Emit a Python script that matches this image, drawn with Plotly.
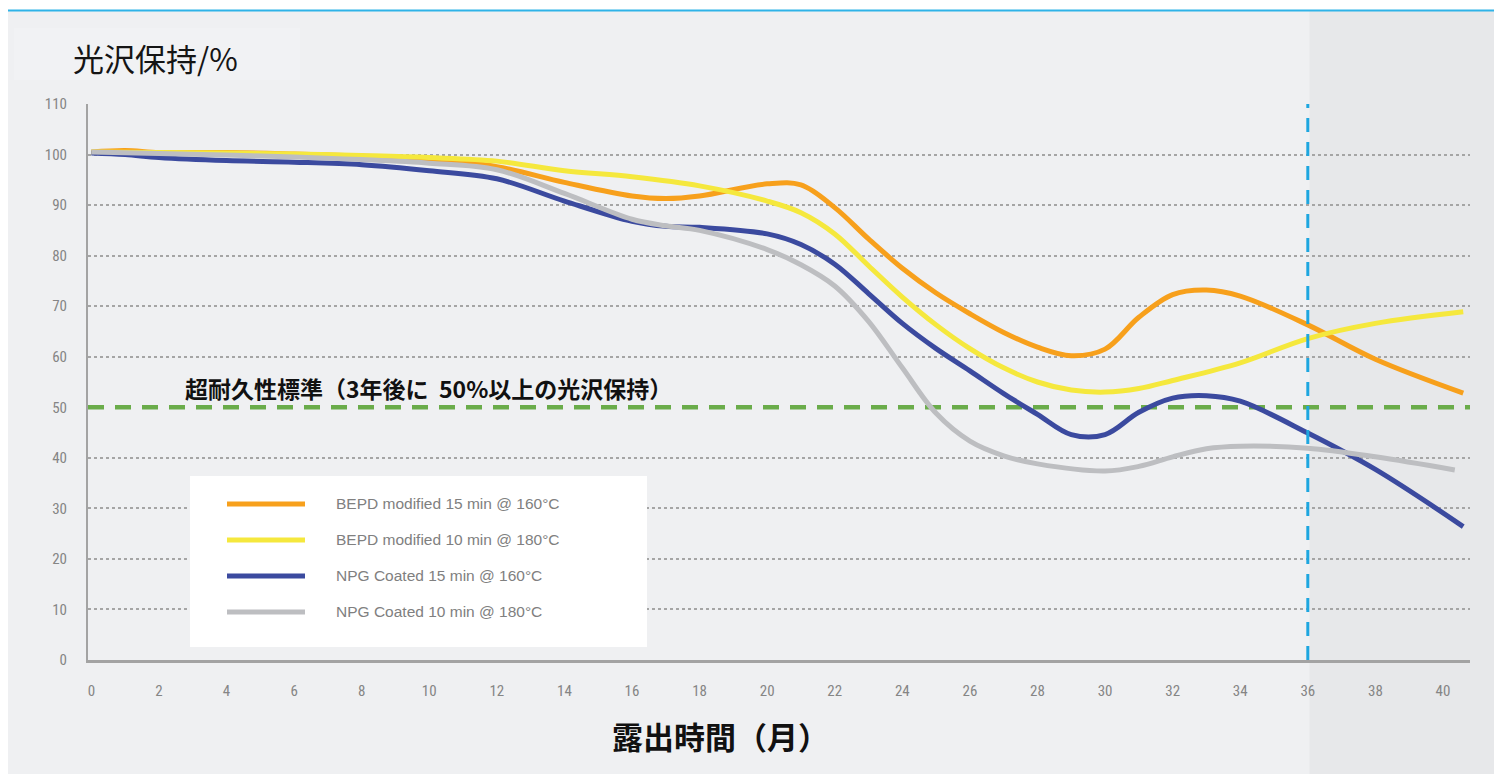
import plotly.graph_objects as go

# ---------------- data ----------------
months_orange = [0, 1, 2, 4, 6, 8, 10, 12, 14, 16, 17, 18, 20, 21, 22, 23, 24, 25, 26, 27, 28, 29, 30, 31, 32, 33, 34, 36, 38, 40.6]
orange = [100.5, 100.8, 100.4, 100.4, 100.1, 99.7, 99.1, 97.6, 94.5, 91.8, 91.3, 91.8, 94.2, 94.0, 89.5, 83.3, 77.5, 72.6, 68.5, 64.8, 61.9, 60.2, 61.5, 67.8, 72.3, 73.2, 72.0, 66.3, 59.5, 52.8]

months_yellow = [0, 2, 4, 6, 8, 10, 12, 14, 16, 18, 20, 21, 22, 23, 24, 25, 26, 27, 28, 29, 30, 31, 32, 34, 36, 38, 40.6]
yellow = [100.5, 100.4, 100.3, 100.1, 99.8, 99.4, 98.7, 96.8, 95.6, 93.8, 90.8, 88.5, 84.3, 78.0, 71.8, 66.3, 61.6, 57.8, 55.0, 53.4, 53.0, 53.7, 55.3, 58.8, 63.6, 66.6, 68.9]

months_blue = [0, 1, 2, 4, 6, 8, 10, 12, 14, 16, 17, 18, 20, 21, 22, 23, 24, 25, 26, 27, 28, 29, 30, 31, 32, 33, 34, 36, 38, 40.6]
blue = [100.3, 100.0, 99.4, 98.8, 98.5, 98.0, 96.8, 95.2, 90.8, 86.8, 85.8, 85.6, 84.3, 82.2, 78.3, 72.5, 66.6, 61.6, 57.2, 52.7, 48.6, 44.6, 44.6, 49.0, 51.8, 52.3, 51.2, 44.9, 37.7, 26.4]

months_gray = [0, 2, 4, 6, 8, 10, 12, 14, 16, 17, 18, 20, 21, 22, 23, 24, 25, 26, 27, 28, 30, 31, 32, 33, 34, 36, 38, 40.35]
gray = [100.5, 100.2, 99.9, 99.5, 99.0, 98.3, 97.0, 92.3, 87.2, 85.9, 85.0, 81.2, 78.2, 74.0, 67.0, 57.8, 48.8, 43.3, 40.4, 38.8, 37.4, 38.3, 40.2, 41.8, 42.3, 41.9, 40.2, 37.6]

series_names = [
    "BEPD modified 15 min @ 160°C",
    "BEPD modified 10 min @ 180°C",
    "NPG Coated 15 min @ 160°C",
    "NPG Coated 10 min @ 180°C",
]
series_x = [months_orange, months_yellow, months_blue, months_gray]
series_y = [orange, yellow, blue, gray]
series_colors = ["#f7a01c", "#f5e83d", "#3b4a9f", "#bdbec1"]

x_ticks = list(range(0, 41, 2))
y_ticks = list(range(0, 111, 10))
threshold = 50
target_month = 36
x_range = [-0.1, 40.8]
y_range = [0, 110]

standard_text = "超耐久性標準（3年後に  50%以上の光沢保持）"
y_title = "光沢保持/%"
x_title = "露出時間（月）"

# ---------------- layout helpers ----------------
OFF = 8  # page body margin of the browser
W, H = 1502 - OFF, 774 - OFF
ML, MR, MT, MB = 80, 32, 96, 114
PW, PH = W - ML - MR, H - MT - MB
BG = "#eff0f2"
BG_SHADE = "#e7e8ea"


def px(xs):
    """screen x pixel -> paper coordinate"""
    return (xs - OFF - ML) / PW


def py(ys):
    """screen y pixel -> paper coordinate"""
    return (H - MB - (ys - OFF)) / PH


fig = go.Figure()

# threshold line (mask of grid + dashed green), drawn under the curves
split = target_month + 0.05
fig.add_trace(go.Scatter(x=[x_range[0], split], y=[threshold, threshold], mode="lines",
                         line=dict(color=BG, width=5), showlegend=False, hoverinfo="skip"))
fig.add_trace(go.Scatter(x=[split, x_range[1]], y=[threshold, threshold], mode="lines",
                         line=dict(color=BG_SHADE, width=5), showlegend=False, hoverinfo="skip"))
fig.add_trace(go.Scatter(x=[x_range[0], x_range[1]], y=[threshold, threshold], mode="lines",
                         line=dict(color="#6aac4a", width=4.5, dash="16px,11px"),
                         showlegend=False, hoverinfo="skip"))

for xs, ys, name, col in zip(series_x, series_y, series_names, series_colors):
    fig.add_trace(go.Scatter(
        x=xs, y=ys, name=name, mode="lines",
        line=dict(color=col, width=5, shape="spline", smoothing=1.0),
        showlegend=False, hoverinfo="skip",
    ))

tx = (split - x_range[0]) / (x_range[1] - x_range[0])
shapes = []
# page background
shapes.append(dict(type="rect", xref="paper", yref="paper", x0=px(OFF), x1=px(1510),
                   y0=py(780), y1=py(11), fillcolor=BG, line_width=0, layer="below"))
# shaded region after target month
shapes.append(dict(type="rect", xref="paper", yref="paper", x0=tx, x1=px(1510),
                   y0=py(780), y1=py(11), fillcolor=BG_SHADE, line_width=0, layer="below"))
# title box (subtle)
shapes.append(dict(type="rect", xref="paper", yref="paper", x0=px(14), x1=px(300),
                   y0=py(80), y1=py(28), fillcolor="#f1f2f4", line_width=0, layer="below"))
# top blue rule
shapes.append(dict(type="line", xref="paper", yref="paper", x0=px(OFF), x1=px(1510),
                   y0=py(10.5), y1=py(10.5), line=dict(color="#2fb3e8", width=2)))
# target month vertical line
shapes.append(dict(type="line", xref="x", yref="y", x0=target_month, x1=target_month,
                   y0=y_range[0], y1=y_range[1],
                   line=dict(color="#1da6e0", width=3, dash="14px,10px")))
# legend box
shapes.append(dict(type="rect", xref="paper", yref="paper", x0=px(190), x1=px(647),
                   y0=py(647), y1=py(476), fillcolor="#ffffff", line_width=0))

annotations = []
rows = [504, 540, 576, 612]
for r, name, col in zip(rows, series_names, series_colors):
    shapes.append(dict(type="line", xref="paper", yref="paper", x0=px(227), x1=px(305),
                       y0=py(r), y1=py(r), line=dict(color=col, width=5)))
    annotations.append(dict(xref="paper", yref="paper", x=px(334), y=py(r - 1), text=name,
                            showarrow=False, xanchor="left", yanchor="middle",
                            font=dict(family="Liberation Sans, Arial", size=15.5, color="#808080")))

annotations.append(dict(xref="paper", yref="paper", x=px(71), y=py(57), text=y_title,
                        showarrow=False, xanchor="left", yanchor="middle",
                        font=dict(family="Noto Sans CJK JP", size=31, color="#151515")))
annotations.append(dict(xref="paper", yref="paper", x=px(428), y=py(388), text="<b>" + standard_text + "</b>",
                        showarrow=False, xanchor="center", yanchor="middle",
                        font=dict(family="Noto Sans CJK JP", size=23, color="#111111")))
annotations.append(dict(xref="paper", yref="paper", x=px(720), y=py(735), text="<b>" + x_title + "</b>",
                        showarrow=False, xanchor="center", yanchor="middle",
                        font=dict(family="Noto Sans CJK JP", size=31, color="#111111")))

tick_font = dict(family="Liberation Sans Narrow, Roboto Condensed, Roboto", size=15, color="#858585")

fig.update_layout(
    width=W, height=H,
    margin=dict(l=ML, r=MR, t=MT, b=MB, pad=0),
    paper_bgcolor="#ffffff",
    plot_bgcolor="rgba(0,0,0,0)",
    shapes=shapes,
    annotations=annotations,
    xaxis=dict(range=x_range, tickvals=x_ticks, ticktext=[str(t) for t in x_ticks],
               showgrid=False, zeroline=False, showline=True, linecolor="#a3a3a3", linewidth=2.5,
               ticks="", ticklabelstandoff=15, tickfont=tick_font, fixedrange=True),
    yaxis=dict(range=y_range, tickvals=y_ticks, ticktext=[str(t) for t in y_ticks],
               showgrid=True, gridcolor="#a5a5a5", gridwidth=1.5, griddash="dot",
               zeroline=False, showline=True, linecolor="#a3a3a3", linewidth=2,
               ticks="", ticklabelstandoff=16, tickfont=tick_font, fixedrange=True),
)

fig.write_html("out.html")
